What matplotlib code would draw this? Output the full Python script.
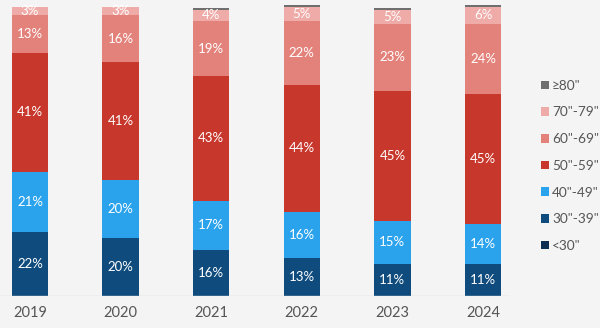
import numpy as np
import matplotlib
matplotlib.use("Agg")
import matplotlib.pyplot as plt
from matplotlib.patches import Patch

plt.rcParams['font.family'] = ['Lato', 'DejaVu Sans']

years = ['2019', '2020', '2021', '2022', '2023', '2024']
sizes = ['<30"', '30"-39"', '40"-49"', '50"-59"', '60"-69"', '70"-79"', '≥80"']

# share of shipments by screen size, %
lt30 = [0, 0, 0, 0, 0, 0]
s30_39 = [22, 20, 16, 13, 11, 11]
s40_49 = [21, 20, 17, 16, 15, 14]
s50_59 = [41, 41, 43, 44, 45, 45]
s60_69 = [13, 16, 19, 22, 23, 24]
s70_79 = [3, 3, 4, 5, 5, 6]
ge80 = [0, 0, 0.6, 0.5, 0.6, 0.5]

series = [lt30, s30_39, s40_49, s50_59, s60_69, s70_79, ge80]
colors = ['#0b2f52', '#0f4c7d', '#2aa3ec', '#c8372c', '#e3827b', '#efaba7', '#6f6f6f']

bg = '#f4f4f4'
fig = plt.figure(figsize=(6, 3.28), dpi=100, facecolor=bg)
ax = fig.add_axes([0, 0.0976, 0.85, 0.887])
ax.set_facecolor(bg)

x = np.arange(len(years))
bottom = np.zeros(len(years))
for vals, col in zip(series, colors):
    vals = np.array(vals, dtype=float)
    ax.bar(x, vals, bottom=bottom, width=0.4, color=col, linewidth=0)
    for xi, b, v in zip(x, bottom, vals):
        if v >= 2:
            ax.text(xi, b + v / 2, f'{v:.0f}%', ha='center', va='center',
                    color='white', fontsize=9.5)
    bottom += vals

ax.set_xlim(-0.331, 5.298)
ax.set_ylim(0, 100.6)
ax.axhline(0, color='#d6d6d6', linewidth=1)
for s in ax.spines.values():
    s.set_visible(False)
ax.set_yticks([])
ax.set_xticks(x)
ax.set_xticklabels(years, fontsize=10.5, color='#555555')
ax.tick_params(axis='x', length=0, pad=7)

handles = [Patch(facecolor=c, edgecolor='none') for c in colors][::-1]
fig.legend(handles, sizes[::-1], loc='upper left', bbox_to_anchor=(0.902, 0.757),
           frameon=False, fontsize=9.8, labelcolor='#555555',
           handlelength=0.6, handleheight=0.6, handletextpad=0.2,
           labelspacing=1.08, borderaxespad=0, borderpad=0)

fig.savefig('out.png', dpi=100, facecolor=bg)
